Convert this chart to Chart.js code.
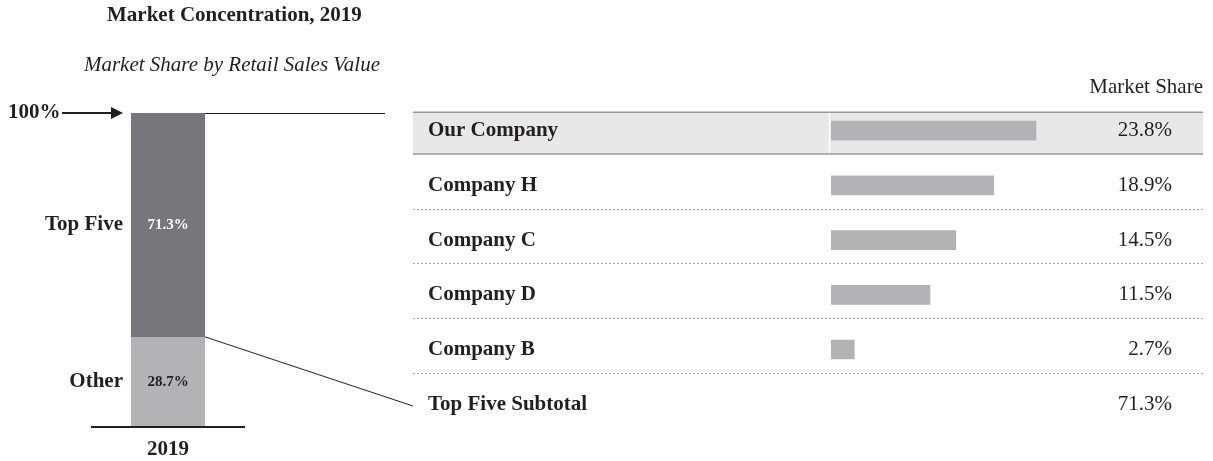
<!DOCTYPE html>
<html><head><meta charset="utf-8">
<script src="https://cdn.jsdelivr.net/npm/chart.js@4"></script>
<style>
body{margin:0;background:#fff;width:1213px;height:461px;overflow:hidden;position:relative}
#l{position:absolute;left:0;top:0}
#r{position:absolute;left:400px;top:0}
</style></head><body>
<canvas id="l" width="420" height="461"></canvas>
<canvas id="r" width="813" height="461"></canvas>
<script>
// ---- data ----
const years = ['2019'];
const segmentNames = ['Other', 'Top Five'];
const otherShare = [28.7];
const topFiveShare = [71.3];
const companies = ['Our Company', 'Company H', 'Company C', 'Company D', 'Company B', 'Top Five Subtotal'];
const companyShare = [23.8, 18.9, 14.5, 11.5, 2.7, null];
const subtotalShare = 71.3;

const INK = '#231f20';
const SERIF = '"Liberation Serif", "Times New Roman", serif';

function txt(ctx, s, x, y, font, align, color, base) {
  ctx.save();
  ctx.font = font; ctx.textAlign = align || 'left'; ctx.textBaseline = base || 'middle';
  ctx.fillStyle = color || INK; ctx.fillText(s, x, y); ctx.restore();
}

// ---- left chart ----
const leftPlugin = {
  id: 'leftDeco',
  afterDraw(chart) {
    const ctx = chart.ctx, ca = chart.chartArea, ys = chart.scales.y;
    const topBar = chart.getDatasetMeta(1).data[0];
    const bw = topBar.width, cx = topBar.x;
    const xl = cx - bw / 2, xr = cx + bw / 2;
    const yTop = ys.getPixelForValue(otherShare[0] + topFiveShare[0]);
    const ySplit = ys.getPixelForValue(otherShare[0]);
    const yBase = ys.getPixelForValue(0);
    // title & subtitle
    txt(ctx, 'Market Concentration, 2019', 107, 16, 'bold 21px ' + SERIF, 'left');
    txt(ctx, 'Market Share by Retail Sales Value', 380, 65, 'italic 21px ' + SERIF, 'right');
    // baseline
    ctx.save(); ctx.strokeStyle = INK; ctx.lineWidth = 2;
    ctx.beginPath(); ctx.moveTo(ca.left, yBase); ctx.lineTo(ca.right, yBase); ctx.stroke();
    // connectors
    ctx.lineWidth = 1;
    ctx.beginPath(); ctx.moveTo(xr, yTop + 0.5); ctx.lineTo(385, yTop + 0.5); ctx.stroke();
    ctx.beginPath(); ctx.moveTo(xr, ySplit); ctx.lineTo(413, 406); ctx.stroke();
    // arrow
    ctx.lineWidth = 2;
    ctx.beginPath(); ctx.moveTo(62, yTop); ctx.lineTo(112, yTop); ctx.stroke();
    ctx.fillStyle = INK;
    ctx.beginPath(); ctx.moveTo(111, yTop - 6); ctx.lineTo(123, yTop); ctx.lineTo(111, yTop + 6); ctx.closePath(); ctx.fill();
    ctx.restore();
    txt(ctx, '100%', 8, yTop, 'bold 21px ' + SERIF, 'left');
    // labels
    txt(ctx, years[0], cx, 450, 'bold 21px ' + SERIF, 'center');
    txt(ctx, segmentNames[1], xl - 8, (yTop + ySplit) / 2, 'bold 21px ' + SERIF, 'right');
    txt(ctx, segmentNames[0], xl - 8, (ySplit + yBase) / 2, 'bold 21px ' + SERIF, 'right');
    txt(ctx, topFiveShare[0].toFixed(1) + '%', cx, (yTop + ySplit) / 2, 'bold 15px ' + SERIF, 'center', '#ffffff');
    txt(ctx, otherShare[0].toFixed(1) + '%', cx, (ySplit + yBase) / 2, 'bold 15px ' + SERIF, 'center', INK);
  }
};

new Chart(document.getElementById('l'), {
  type: 'bar',
  data: {
    labels: years,
    datasets: [
      { label: segmentNames[0], data: otherShare, backgroundColor: '#b3b3b5' },
      { label: segmentNames[1], data: topFiveShare, backgroundColor: '#77777b' }
    ]
  },
  options: {
    responsive: false, animation: false, devicePixelRatio: 1,
    layout: { padding: { left: 91, right: 175, top: 113, bottom: 34 } },
    datasets: { bar: { categoryPercentage: 1, barPercentage: 74 / 154, borderWidth: 0 } },
    scales: {
      x: { stacked: true, display: false },
      y: { stacked: true, display: false, min: 0, max: 100 }
    },
    plugins: { legend: { display: false }, tooltip: { enabled: false } }
  },
  plugins: [leftPlugin]
});

// ---- right chart ----
const rightPlugin = {
  id: 'rightDeco',
  beforeDatasetsDraw(chart) {
    const ctx = chart.ctx, ys = chart.scales.y, ca = chart.chartArea;
    const c0 = ys.getPixelForValue(0);
    ctx.save();
    ctx.fillStyle = '#e8e8e8';
    ctx.fillRect(13, c0 - 18.4, 790, 41.7);
    ctx.strokeStyle = '#999999'; ctx.lineWidth = 1.5;
    ctx.beginPath(); ctx.moveTo(13, c0 - 18.4); ctx.lineTo(803, c0 - 18.4); ctx.stroke();
    ctx.beginPath(); ctx.moveTo(13, c0 + 23.3); ctx.lineTo(803, c0 + 23.3); ctx.stroke();
    ctx.strokeStyle = '#ffffff'; ctx.lineWidth = 1.5;
    ctx.beginPath(); ctx.moveTo(ca.left - 1.5, c0 - 17.6); ctx.lineTo(ca.left - 1.5, c0 + 22.5); ctx.stroke();
    ctx.strokeStyle = '#a8a8a8'; ctx.lineWidth = 1; ctx.setLineDash([2, 2]);
    for (let i = 1; i <= 4; i++) {
      const y = Math.round(ys.getPixelForValue(i) + 23.3) + 0.5;
      ctx.beginPath(); ctx.moveTo(13, y); ctx.lineTo(803, y); ctx.stroke();
    }
    ctx.restore();
  },
  afterDatasetsDraw(chart) {
    const ctx = chart.ctx, ys = chart.scales.y;
    txt(ctx, 'Market Share', 803, 87, '21px ' + SERIF, 'right');
    companies.forEach((name, i) => {
      const y = ys.getPixelForValue(i);
      txt(ctx, name, 28, y, 'bold 21px ' + SERIF, 'left');
      const v = companyShare[i] == null ? subtotalShare : companyShare[i];
      txt(ctx, v.toFixed(1) + '%', 772, y, '21px ' + SERIF, 'right');
    });
  }
};

new Chart(document.getElementById('r'), {
  type: 'bar',
  data: {
    labels: companies,
    datasets: [{ label: 'Market Share', data: companyShare, backgroundColor: '#b3b3b5', barThickness: 19 }]
  },
  options: {
    indexAxis: 'y',
    responsive: false, animation: false, devicePixelRatio: 1,
    layout: { padding: { left: 431, right: 37.6, top: 103.35, bottom: 29.4 } },
    scales: {
      x: { display: false, min: 0, max: 40 },
      y: { display: false }
    },
    plugins: { legend: { display: false }, tooltip: { enabled: false } }
  },
  plugins: [rightPlugin]
});
</script>
</body></html>
